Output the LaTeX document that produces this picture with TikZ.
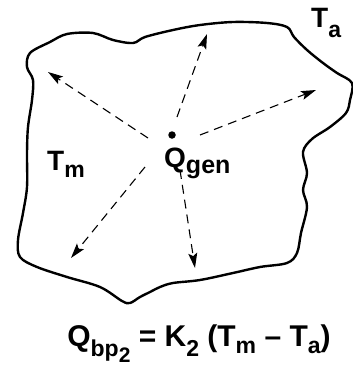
\documentclass[tikz,border=0pt]{standalone}
\usepackage{fontspec}
\setmainfont{Liberation Sans}
\usetikzlibrary{arrows.meta}
\newcommand{\lowr}[3][20]{\raisebox{-#2}{\fontsize{#1}{#1}\selectfont #3}}
\tikzset{
    flux/.style={-{Stealth[length=15pt, width=9pt, inset=3pt]}, line width=1.1pt, dash pattern=on 9pt off 6pt},
    lbl/.style={inner sep=0pt, font=\fontsize{28}{28}\selectfont\bfseries}
}

\begin{document}
\begin{tikzpicture}[x=1pt, y=-1pt]
        \useasboundingbox (0,0) rectangle (353,367);
        % Boundary
        \draw[line width=2.4pt, line join=round] plot[smooth cycle, tension=0.55] coordinates {
            (30,53) (50,42) (67,34) (93,33) (113,40) (133,43) (145,37) (173,30)
            (200,25) (233,22) (267,23) (287,27) (294,37) (307,50) (323,63)
            (337,73) (352,83) (350,100) (346,113) (330,127) (312,139) (303,152)
            (307,173) (303,190) (307,207) (301,233) (297,253) (287,263)
            (260,267) (233,273) (200,280) (173,283) (160,287) (150,292)
            (140,297) (130,303) (122,301) (100,287) (67,277) (37,267) (20,257)
            (18,240) (23,213) (27,187) (27,153) (28,127) (32,100) (33,80)
            (27,67)};

        % Nodes
        \node[circle, fill=black, inner sep=0pt, minimum size=7.5pt] (gen) at (172,135) {};
        \node[lbl, anchor=base west] (Qgen) at (164,167) {Q\lowr[25]{6pt}{gen}};
        \node[lbl, anchor=base west] (Tm) at (47,170) {T\lowr[23]{7pt}{m}};
        \node[lbl, anchor=base west] (Ta) at (311,27) {T\lowr[23]{10pt}{a}};
        \node[lbl, anchor=base, font=\fontsize{30}{30}\selectfont\bfseries] (bal) at (199,346)
            {Q\lowr[23]{10pt}{bp\lowr[21]{6pt}{2}} = K\lowr[23]{10pt}{2} (T\lowr[23]{7pt}{m} -- T\lowr[23]{7pt}{a})};

        \coordinate (s1) at (148,138);
        \coordinate (s2) at (177,117);
        \coordinate (s3) at (200,135);
        \coordinate (s4) at (145,167);
        \coordinate (s5) at (180,170);
        \coordinate (e1) at (48,72);
        \coordinate (e2) at (207,34);
        \coordinate (e3) at (316,90);
        \coordinate (e4) at (71,258);
        \coordinate (e5) at (195,268);

        % Heat flow
        \draw[flux] (s1) -- (e1);
        \draw[flux] (s2) -- (e2);
        \draw[flux] (s3) -- (e3);
        \draw[flux] (s4) -- (e4);
        \draw[flux] (s5) -- (e5);
    \end{tikzpicture}
\end{document}
